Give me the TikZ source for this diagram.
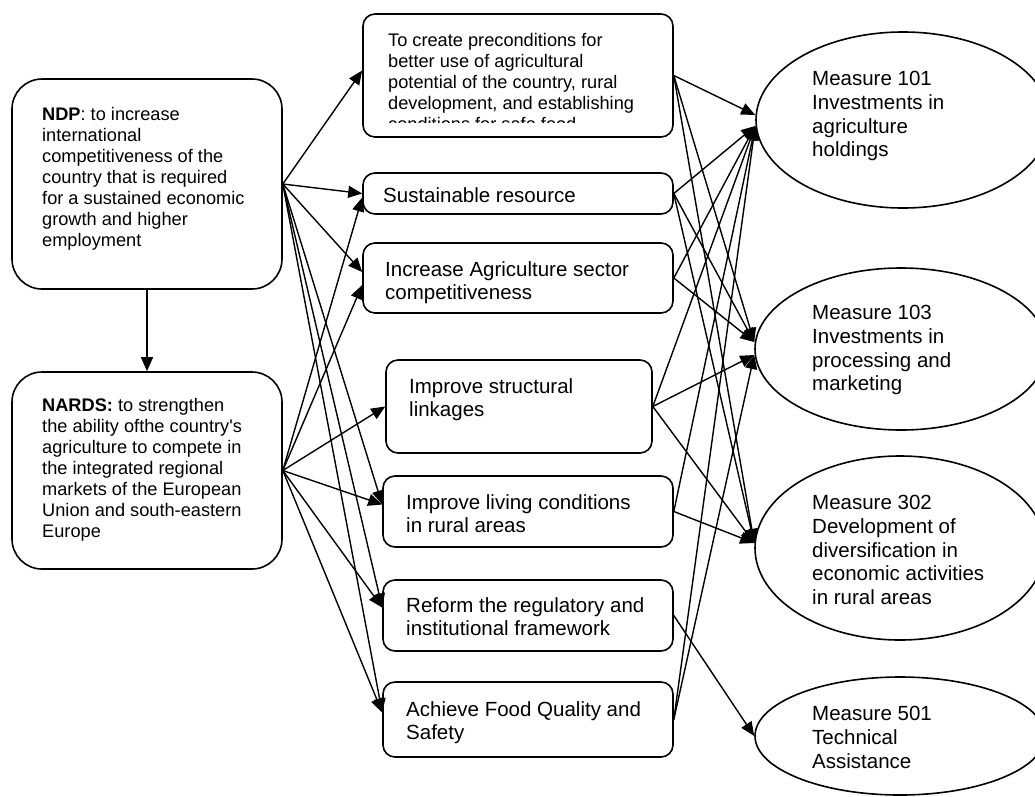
\documentclass[tikz,border=0pt]{standalone}
\usepackage{fontspec}
\setmainfont{Liberation Sans}
\usetikzlibrary{arrows.meta,shapes.geometric}

\begin{document}
\begin{tikzpicture}[
  x=1pt, y=-1pt,
  goal/.style={rectangle, draw, rounded corners=30pt,
    line width=1.6pt, inner sep=0pt},
  prio/.style={rectangle, draw, rounded corners=12pt,
    line width=1.6pt, inner sep=0pt},
  measure/.style={ellipse, draw, line width=1.6pt, inner sep=0pt},
  txt/.style={anchor=north west, inner sep=0pt, align=left,
    font=\fontsize{20.5pt}{23.8pt}\selectfont},
  smalltxt/.style={txt, font=\fontsize{18.2pt}{21pt}\selectfont},
  arrow/.style={-{Triangle[length=14pt,width=12pt]}, line width=1.4pt},
]
  \clip (0,0) rectangle (1035,796);

  % strategies
  \node[goal, minimum width=270pt, minimum height=210pt] (ndp) at (147,184) {};
  \node[goal, minimum width=270pt, minimum height=197pt] (nards) at (147,470.5) {};
  \node[smalltxt] (ndptxt) at (42,107) {\textbf{NDP}: to increase\\
    international\\competitiveness of the\\country that is required\\
    for a sustained economic\\growth and higher\\employment};
  \node[smalltxt] (nardstxt) at (42,398) {\textbf{NARDS:} to strengthen\\
    the ability ofthe country\textquotesingle s\\agriculture to compete in\\
    the integrated regional\\markets of the European\\
    Union and south-eastern\\Europe};

  % priorities
  \node[prio, minimum width=310pt, minimum height=123pt] (aim)    at (518,75.5) {};
  \node[prio, minimum width=310pt, minimum height=41pt]  (res)    at (518,193.5) {};
  \node[prio, minimum width=310pt, minimum height=70pt]  (comp)   at (518,278) {};
  \node[prio, minimum width=266pt, minimum height=93pt]  (link)   at (519,406.5) {};
  \node[prio, minimum width=290pt, minimum height=71pt]  (live)   at (528,511.5) {};
  \node[prio, minimum width=290pt, minimum height=71pt]  (reform) at (528,615.5) {};
  \node[prio, minimum width=290pt, minimum height=75pt]  (food)   at (528,719.5) {};

  \begin{scope}
    \clip (363,14) rectangle (673,122);
    \node[smalltxt] (aimtxt) at (388,33) {To create preconditions for\\
      better use of agricultural\\potential of the country, rural\\
      development, and establishing\\conditions for safe food};
  \end{scope}
  \node[txt] (restxt)    at (383,187) {Sustainable resource};
  \node[txt] (comptxt)   at (385,261) {Increase Agriculture sector\\competitiveness};
  \node[txt] (linktxt)   at (409,378) {Improve structural\\linkages};
  \node[txt] (livetxt)   at (406,494) {Improve living conditions\\in rural areas};
  \node[txt] (reformtxt) at (406,597) {Reform the regulatory and\\institutional framework};
  \node[txt] (foodtxt)   at (406,701) {Achieve Food Quality and\\Safety};

  % measures
  \node[measure, minimum width=294pt, minimum height=176pt] (m101) at (903,120) {};
  \node[measure, minimum width=292pt, minimum height=162pt] (m103) at (901,349) {};
  \node[measure, minimum width=290pt, minimum height=184pt] (m302) at (900,548) {};
  \node[measure, minimum width=290pt, minimum height=118pt] (m501) at (900,736) {};
  \node[txt] (m101txt) at (812,71)  {Measure 101\\Investments in\\agriculture\\holdings};
  \node[txt] (m103txt) at (812,305) {Measure 103\\Investments in\\processing and\\marketing};
  \node[txt] (m302txt) at (812,495) {Measure 302\\Development of\\diversification in\\
    economic activities\\in rural areas};
  \node[txt] (m501txt) at (812,706) {Measure 501\\Technical\\Assistance};

  \draw[arrow] (ndp.south) -- (nards.north);

  \draw[arrow] (ndp.east) -- ([yshift=5pt]aim.west);
  \draw[arrow] (ndp.east) -- (res.west);
  \draw[arrow] (ndp.east) -- ([yshift=6pt]comp.west);
  \draw[arrow] (ndp.east) -- ([yshift=7pt]live.west);
  \draw[arrow] (ndp.east) -- ([yshift=8pt]reform.west);
  \draw[arrow] (ndp.east) -- ([yshift=7pt]food.west);
  \draw[arrow] (nards.east) -- ([yshift=-4pt]res.west);
  \draw[arrow] (nards.east) -- ([yshift=-7pt]comp.west);
  \draw[arrow] (nards.east) -- (link.west);
  \draw[arrow] (nards.east) -- ([yshift=7pt]live.west);
  \draw[arrow] (nards.east) -- ([yshift=8pt]reform.west);
  \draw[arrow] (nards.east) -- ([yshift=7pt]food.west);

  \draw[arrow] (aim.east) -- ([yshift=5pt]m101.west);
  \draw[arrow] (aim.east) -- ([yshift=7pt]m103.west);
  \draw[arrow] (aim.east) -- ([yshift=5pt]m302.west);
  \draw[arrow] (res.east) -- ([yshift=-6pt]m101.west);
  \draw[arrow] (res.east) -- ([yshift=7pt]m103.west);
  \draw[arrow] (res.east) -- ([yshift=5pt]m302.west);
  \draw[arrow] (comp.east) -- ([yshift=-6pt]m101.west);
  \draw[arrow] (comp.east) -- ([yshift=7pt]m103.west);
  \draw[arrow] (link.east) -- ([yshift=-6pt]m101.west);
  \draw[arrow] (link.east) -- ([yshift=-6pt]m103.west);
  \draw[arrow] (link.east) -- ([yshift=5pt]m302.west);
  \draw[arrow] (live.east) -- ([yshift=-6pt]m101.west);
  \draw[arrow] (live.east) -- ([yshift=5pt]m302.west);
  \draw[arrow] (reform.east) -- (m501.west);
  \draw[arrow] (food.east) -- ([yshift=-6pt]m101.west);
  \draw[arrow] (food.east) -- ([yshift=-6pt]m103.west);
\end{tikzpicture}
\end{document}
